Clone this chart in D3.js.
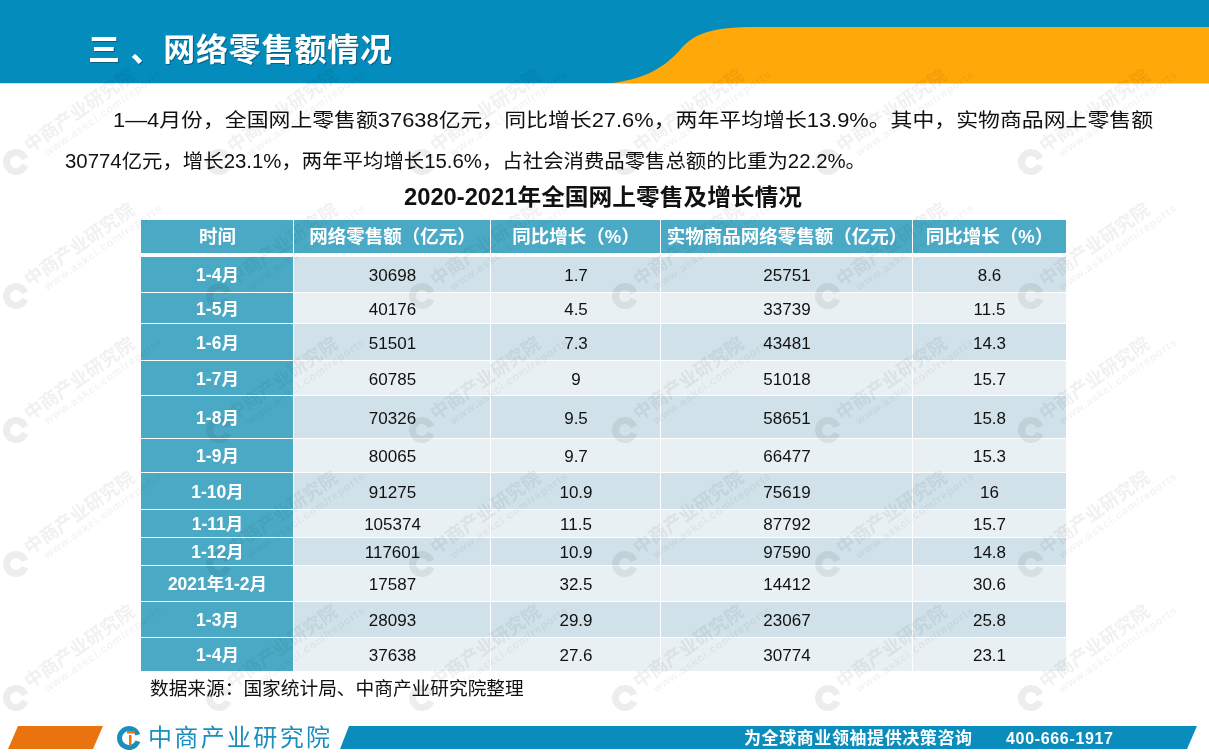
<!DOCTYPE html>
<html>
<head>
<meta charset="utf-8">
<script src="https://d3js.org/d3.v7.min.js"></script>
<style>
  html, body { margin: 0; padding: 0; background: #fff; overflow: hidden; }
  text { font-family: "Liberation Sans", "Noto Sans CJK SC", sans-serif; }
</style>
</head>
<body>
<div id="canvas"></div>
<script>
const headers = ["时间", "网络零售额（亿元）", "同比增长（%）", "实物商品网络零售额（亿元）", "同比增长（%）"];
const periods = ["1-4月", "1-5月", "1-6月", "1-7月", "1-8月", "1-9月", "1-10月", "1-11月", "1-12月", "2021年1-2月", "1-3月", "1-4月"];
const onlineSales = ["30698", "40176", "51501", "60785", "70326", "80065", "91275", "105374", "117601", "17587", "28093", "37638"];
const onlineGrowth = ["1.7", "4.5", "7.3", "9", "9.5", "9.7", "10.9", "11.5", "10.9", "32.5", "29.9", "27.6"];
const goodsSales = ["25751", "33739", "43481", "51018", "58651", "66477", "75619", "87792", "97590", "14412", "23067", "30774"];
const goodsGrowth = ["8.6", "11.5", "14.3", "15.7", "15.8", "15.3", "16", "15.7", "14.8", "30.6", "25.8", "23.1"];

const pageTitle = "三 、网络零售额情况";
const introLines = [
  "1—4月份，全国网上零售额37638亿元，同比增长27.6%，两年平均增长13.9%。其中，实物商品网上零售额",
  "30774亿元，增长23.1%，两年平均增长15.6%，占社会消费品零售总额的比重为22.2%。"
];
const tableTitle = "2020-2021年全国网上零售及增长情况";
const sourceNote = "数据来源：国家统计局、中商产业研究院整理";

// layout of the table
const colEdges = [141, 294, 491, 661, 913, 1066];
const headerBand = [220, 253];
const rowEdges = [257, 293, 324, 361, 396, 439, 473, 510, 538, 566, 602, 638, 672];

const width = 1209, height = 756;
const svg = d3.select("#canvas").append("svg")
  .attr("width", width)
  .attr("height", height)
  .style("display", "block");

// backgrounds first, then watermark multiplied over them, text on top
const bg = svg.append("g");
const wm = svg.append("g").style("mix-blend-mode", "multiply");
const fg = svg.append("g");

// C shaped logo, opening on the right like the brand mark
const logoArc = d3.arc().startAngle(0.35).endAngle(2 * Math.PI - 0.35);
function drawLogo(parent, cx, cy, r, thick, color) {
  parent.append("path")
    .attr("transform", `translate(${cx},${cy}) rotate(90)`)
    .attr("d", logoArc({ innerRadius: r - thick, outerRadius: r }))
    .attr("fill", color);
}

// top banner
bg.append("rect").attr("width", width).attr("height", 83).attr("fill", "#038cbc");
bg.append("path")
  .attr("d", "M613,83 C640,79 660,72 680,50 C693,34 710,27 757,27 L1209,27 L1209,83 Z")
  .attr("fill", "#ffa809");
bg.append("rect").attr("y", 83).attr("width", width).attr("height", 1).attr("fill", "#dcdcdc");

// table backgrounds
const rows = periods.map((p, i) => [p, onlineSales[i], onlineGrowth[i], goodsSales[i], goodsGrowth[i]]);
const rowStart = d3.scaleOrdinal().domain(d3.range(rows.length)).range(rowEdges.slice(0, -1));

bg.append("g").selectAll("rect")
  .data(headers)
  .join("rect")
  .attr("x", (d, i) => colEdges[i])
  .attr("y", headerBand[0])
  .attr("width", (d, i) => colEdges[i + 1] - colEdges[i] - (i < 4 ? 1 : 0))
  .attr("height", headerBand[1] - headerBand[0])
  .attr("fill", "#4aaac6");

rows.forEach((row, r) => {
  const y0 = rowStart(r);
  const y1 = rowEdges[r + 1];
  bg.append("g").selectAll("rect")
    .data(row)
    .join("rect")
    .attr("x", (d, c) => colEdges[c])
    .attr("y", y0)
    .attr("width", (d, c) => colEdges[c + 1] - colEdges[c] - (c < 4 ? 1 : 0))
    .attr("height", y1 - y0 - 1)
    .attr("fill", (d, c) => c === 0 ? "#4aaac6" : (r % 2 === 0 ? "#d0e1e9" : "#e8f0f4"));

  fg.append("g").selectAll("text")
    .data(row)
    .join("text")
    .attr("x", (d, c) => (colEdges[c] + colEdges[c + 1]) / 2)
    .attr("y", (y0 + y1) / 2)
    .attr("dy", "0.36em")
    .attr("text-anchor", "middle")
    .attr("font-size", (d, c) => c === 0 ? 17.5 : 17)
    .attr("font-weight", (d, c) => c === 0 ? 700 : 400)
    .attr("fill", (d, c) => c === 0 ? "#fff" : "#111")
    .text(d => d);
});

// watermark grid
const wmX = [16, 219, 422, 625, 828, 1031];
const wmY = [162, 296, 430, 564, 698];
wmY.forEach(y => wmX.forEach(x => {
  const g = wm.append("g").attr("transform", `translate(${x},${y})`);
  drawLogo(g, 0, 0, 13, 7, "#ededed");
  const t = g.append("g").attr("transform", "translate(14,-9) rotate(-35)");
  t.append("text").attr("font-size", 18.5).attr("font-weight", 700).attr("fill", "#f1f1f1")
    .text("中商产业研究院");
  t.append("text").attr("x", 12).attr("y", 13)
    .attr("font-size", 11).attr("font-weight", 700).attr("fill", "#f4f4f4")
    .attr("letter-spacing", 0.9)
    .text("www.askci.com/reports");
}));

// banner title with its slight shadow
[["#045f80", 1], ["#fff", 0]].forEach(([color, off]) => {
  fg.append("text").attr("x", 88 + off).attr("y", 61 + off)
    .attr("textLength", 304).attr("lengthAdjust", "spacing")
    .attr("font-size", 32).attr("font-weight", 700).attr("fill", color)
    .text(pageTitle);
});

// intro paragraph
fg.append("g").selectAll("text")
  .data(introLines)
  .join("text")
  .attr("x", (d, i) => i === 0 ? 113 : 65)
  .attr("y", (d, i) => i === 0 ? 127 : 168)
  .attr("textLength", (d, i) => i === 0 ? 1040 : 801)
  .attr("lengthAdjust", "spacingAndGlyphs")
  .attr("font-size", 19.5)
  .attr("fill", "#111")
  .text(d => d);

fg.append("text").attr("x", 404).attr("y", 205)
  .attr("textLength", 398).attr("lengthAdjust", "spacingAndGlyphs")
  .attr("font-size", 23).attr("font-weight", 700).attr("fill", "#111")
  .text(tableTitle);

fg.append("g").selectAll("text")
  .data(headers)
  .join("text")
  .attr("x", (d, i) => (colEdges[i] + colEdges[i + 1]) / 2)
  .attr("y", (headerBand[0] + headerBand[1]) / 2)
  .attr("dy", "0.36em")
  .attr("text-anchor", "middle")
  .attr("font-size", 18.5).attr("font-weight", 700).attr("fill", "#fff")
  .text(d => d);

fg.append("text").attr("x", 150).attr("y", 695)
  .attr("font-size", 18.7).attr("fill", "#111")
  .text(sourceNote);

// footer
fg.append("path").attr("d", "M18,726 L103,726 L93,749 L8,749 Z").attr("fill", "#e8730f");
fg.append("path").attr("d", "M349,726 L1197,726 L1187,749 L340,749 Z").attr("fill", "#0a8dbd");
drawLogo(fg, 129, 738, 12, 5, "#1a8fbd");
fg.append("rect").attr("x", 127).attr("y", 731).attr("width", 8).attr("height", 2.5).attr("fill", "#e8730f");
fg.append("rect").attr("x", 129).attr("y", 735).attr("width", 2.5).attr("height", 11).attr("fill", "#e8730f");
fg.append("text").attr("x", 148).attr("y", 746)
  .attr("textLength", 182).attr("lengthAdjust", "spacing")
  .attr("font-size", 24).attr("fill", "#1a8fbd")
  .text("中商产业研究院");
fg.append("text").attr("x", 744).attr("y", 744)
  .attr("textLength", 228).attr("lengthAdjust", "spacing")
  .attr("font-size", 17).attr("font-weight", 700).attr("fill", "#fff")
  .text("为全球商业领袖提供决策咨询");
fg.append("text").attr("x", 1006).attr("y", 744)
  .attr("textLength", 107).attr("lengthAdjust", "spacing")
  .attr("font-size", 16).attr("font-weight", 700).attr("fill", "#fff")
  .text("400-666-1917");
</script>
</body>
</html>
